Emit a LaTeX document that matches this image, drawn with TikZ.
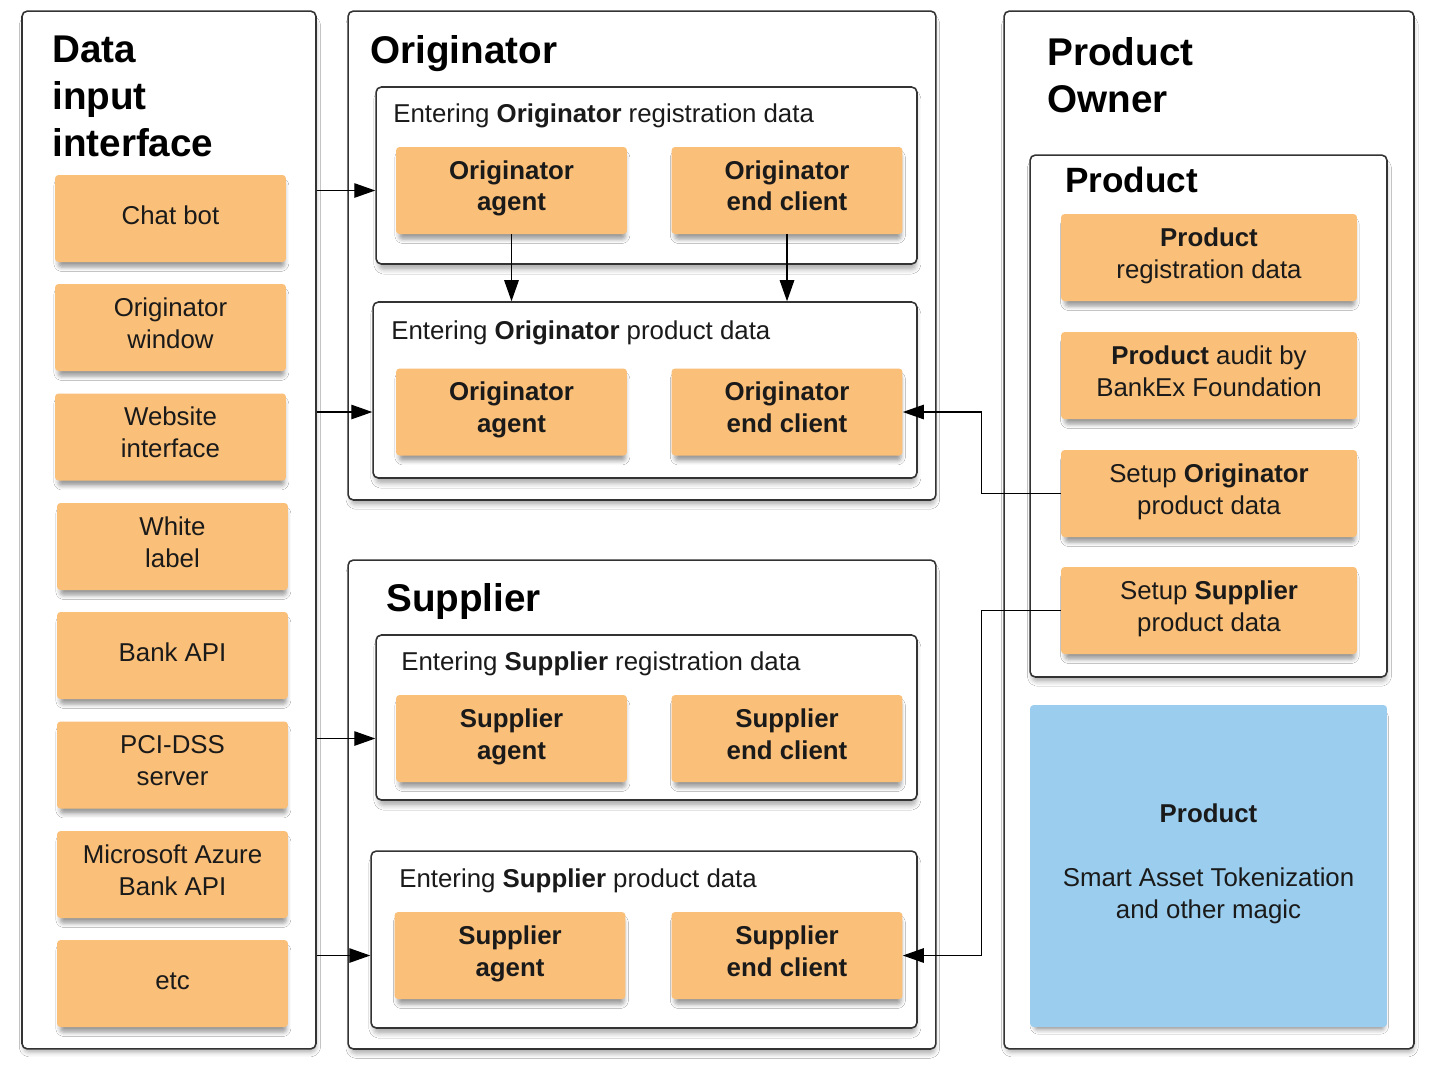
\documentclass[tikz,border=0pt]{standalone}
\usepackage{fontspec}
\setmainfont{Liberation Sans}
\usetikzlibrary{arrows.meta,shadows.blur}
\definecolor{boxorange}{RGB}{250,191,120}
\definecolor{boxblue}{RGB}{155,206,238}
\definecolor{framegray}{RGB}{51,51,51}
\definecolor{txtgray}{RGB}{26,26,26}
\newcommand\txtfont{\fontsize{14.7}{18.1}\selectfont}
\newcommand\headfont{\fontsize{22}{26.6}\selectfont\bfseries}
\newcommand\subheadfont{\fontsize{20}{24}\selectfont\bfseries}
\tikzset{
  frame/.style={draw=framegray, line width=.9pt, rounded corners=3pt, fill=white,
    blur shadow={shadow xshift=.5pt, shadow yshift=-3.5pt, shadow blur radius=2.5pt,
      shadow scale=.995, shadow opacity=30}},
  orng/.style={fill=boxorange, rounded corners=2pt, inner sep=0pt, align=center,
    text=txtgray, font=\txtfont, minimum width=4.62cm, minimum height=1.74cm,
    execute at begin node=\strut, execute at end node=\strut,
    blur shadow={shadow xshift=.5pt, shadow yshift=-3.5pt, shadow blur radius=2.5pt,
      shadow scale=.98, shadow opacity=40}},
  prodbox/.style={orng, minimum width=5.92cm},
  heading/.style={anchor=north west, inner sep=0pt, align=left, font=\headfont},
  subheading/.style={anchor=north west, inner sep=0pt, text=txtgray, font=\txtfont},
  arr/.style={-{Triangle[length=4.2mm,width=2.9mm]}, line width=.7pt},
}
\begin{document}
\begin{tikzpicture}[x=0.02cm, y=-0.02cm]
\fill[white] (0,0) rectangle (1435,1073);
\useasboundingbox (0,0) rectangle (1435,1073);
% outer frames
\node[frame, minimum width=5.88cm, minimum height=20.76cm] (dii) at (169,530) {};
\node[frame, minimum width=11.76cm, minimum height=9.78cm] (orig) at (642,255.5) {};
\node[frame, minimum width=11.76cm, minimum height=9.78cm] (supp) at (642,804.5) {};
\node[frame, minimum width=8.2cm, minimum height=20.76cm] (owner) at (1209,530) {};
\node[heading] (diititle) at (52,36) {Data\\input\\interface};
\node[heading] (origtitle) at (370,35) {Originator};
\node[heading] (supptitle) at (386,583) {Supplier};
\node[heading] (ownertitle) at (1047,37) {Product\\Owner};
% inner frames
\node[frame, minimum width=10.82cm, minimum height=3.54cm] (oreg) at (646.5,175.5) {};
\node[frame, minimum width=10.88cm, minimum height=3.52cm] (oprod) at (645,390) {};
\node[frame, minimum width=10.82cm, minimum height=3.3cm] (sreg) at (646.5,717.5) {};
\node[frame, minimum width=10.92cm, minimum height=3.54cm] (sprod) at (644,939.5) {};
\node[frame, minimum width=7.14cm, minimum height=10.44cm] (product) at (1208.5,416) {};
\node[subheading] (oregtitle) at (393,103) {Entering \textbf{Originator} registration data};
\node[subheading] (oprodtitle) at (391,320) {Entering \textbf{Originator} product data};
\node[subheading] (sregtitle) at (401,651) {Entering \textbf{Supplier} registration data};
\node[subheading] (sprodtitle) at (399,868) {Entering \textbf{Supplier} product data};
\node[anchor=north west, inner sep=0pt, font=\subheadfont] (producttitle) at (1065,167) {Product};
% data inputs
\node[orng] (chatbot) at (170.5,218.5) {Chat bot};
\node[orng] (origwin) at (170.5,327.5) {Originator\\window};
\node[orng] (website) at (170.5,437) {Website\\interface};
\node[orng] (whitelabel) at (172.5,546.5) {White\\label};
\node[orng] (bankapi) at (172.5,655.5) {Bank API};
\node[orng] (pcidss) at (172.5,765) {PCI-DSS\\server};
\node[orng] (azure) at (172.5,874.5) {Microsoft Azure\\Bank API};
\node[orng] (etcbox) at (172.5,983.5) {etc};
% originator and supplier
\node[orng] (oregagent) at (511.5,190.5) {\textbf{Originator}\\\textbf{agent}};
\node[orng] (oregclient) at (787,190.5) {\textbf{Originator}\\\textbf{end client}};
\node[orng] (oprodagent) at (511.5,412) {\textbf{Originator}\\\textbf{agent}};
\node[orng] (oprodclient) at (787,412) {\textbf{Originator}\\\textbf{end client}};
\node[orng] (sregagent) at (511.5,738.5) {\textbf{Supplier}\\\textbf{agent}};
\node[orng] (sregclient) at (787,738.5) {\textbf{Supplier}\\\textbf{end client}};
\node[orng] (sprodagent) at (510,955.5) {\textbf{Supplier}\\\textbf{agent}};
\node[orng] (sprodclient) at (787,955.5) {\textbf{Supplier}\\\textbf{end client}};
% product owner
\node[prodbox] (preg) at (1209,257.5) {\textbf{Product}\\registration data};
\node[prodbox] (paudit) at (1209,375.5) {\textbf{Product} audit by\\BankEx Foundation};
\node[prodbox] (psetorig) at (1209,493.5) {Setup \textbf{Originator}\\product data};
\node[prodbox] (psetsupp) at (1209,610.5) {Setup \textbf{Supplier}\\product data};
\node[orng, fill=boxblue, minimum width=7.14cm, minimum height=6.44cm] (magic) at (1208.5,866)
  {\textbf{Product}\\[18pt]Smart Asset Tokenization\\and other magic};
% connectors
\draw[arr] (dii.east |- oregagent) -- (oreg.west |- oregagent);
\draw[arr] (dii.east |- oprodagent) -- (oprod.west |- oprodagent);
\draw[arr] (dii.east |- sregagent) -- (sreg.west |- sregagent);
\draw[arr] (dii.east |- sprodagent) -- (sprod.west |- sprodagent);
\draw[arr] (oregagent.south) -- (oprod.north -| oregagent.south);
\draw[arr] (oregclient.south) -- (oprod.north -| oregclient.south);
\draw[arr] (psetorig.west) -- ++(-79,0) |- (oprodclient.east);
\draw[arr] (psetsupp.west) -- ++(-79,0) |- (sprodclient.east);
\end{tikzpicture}
\end{document}
